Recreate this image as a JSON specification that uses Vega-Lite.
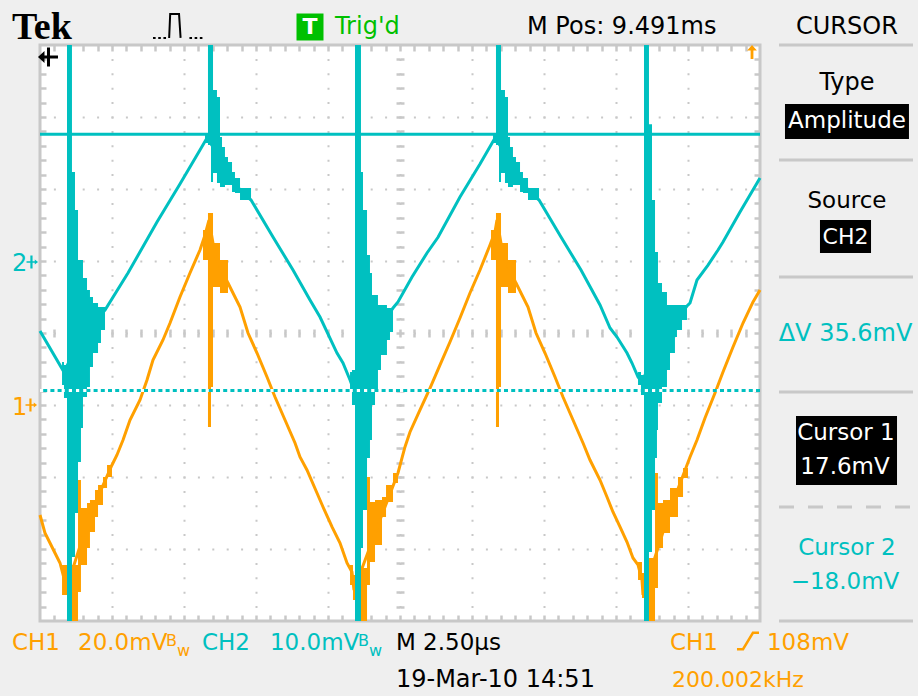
{
"$schema": "https://vega.github.io/schema/vega-lite/v6.json",
"width": 720, "height": 576,
"autosize": {"type": "none"},
"padding": {"left": 40, "top": 45, "right": 158, "bottom": 75},
"background": "#efefef",
"view": {"fill": "#ffffff", "stroke": "#c8c8c8", "strokeWidth": 3},
"data": {"values": [{"k": 0}]},
"datasets": {
"ch1": [
{"t":0,"v":-2.528},{"t":0.069,"v":-2.778},{"t":0.139,"v":-2.917},{"t":0.208,"v":-3.056},{"t":0.278,"v":-3.194},{"t":0.333,"v":-3.403},{"t":0.361,"v":-3.569},{"t":0.694,"v":-2.528},{"t":1.0,"v":-1.833},{"t":1.069,"v":-1.694},{"t":1.153,"v":-1.486},{"t":1.25,"v":-1.208},{"t":1.389,"v":-0.931},{"t":1.486,"v":-0.653},{"t":1.569,"v":-0.375},{"t":1.708,"v":-0.097},{"t":1.806,"v":0.139},{"t":1.944,"v":0.5},{"t":2.083,"v":0.833},{"t":2.222,"v":1.153},{"t":2.292,"v":1.361},{"t":2.347,"v":1.569},{"t":2.431,"v":1.083},{"t":2.611,"v":0.694},{"t":2.778,"v":0.361},{"t":2.889,"v":0},{"t":3.014,"v":-0.278},{"t":3.153,"v":-0.611},{"t":3.264,"v":-0.889},{"t":3.403,"v":-1.208},{"t":3.542,"v":-1.528},{"t":3.611,"v":-1.722},{"t":3.708,"v":-1.903},{"t":3.847,"v":-2.222},{"t":3.931,"v":-2.417},{"t":4.056,"v":-2.694},{"t":4.167,"v":-2.917},{"t":4.264,"v":-3.194},{"t":4.333,"v":-3.319},{"t":4.361,"v":-3.569},{"t":4.722,"v":-2.597},{"t":4.972,"v":-1.944},{"t":5.069,"v":-1.583},{"t":5.139,"v":-1.375},{"t":5.278,"v":-1.069},{"t":5.417,"v":-0.764},{"t":5.556,"v":-0.444},{"t":5.694,"v":-0.125},{"t":5.833,"v":0.208},{"t":5.972,"v":0.556},{"t":6.111,"v":0.875},{"t":6.25,"v":1.222},{"t":6.319,"v":1.403},{"t":6.347,"v":1.569},{"t":6.431,"v":1.083},{"t":6.611,"v":0.694},{"t":6.778,"v":0.361},{"t":6.889,"v":0},{"t":7.014,"v":-0.278},{"t":7.153,"v":-0.611},{"t":7.264,"v":-0.889},{"t":7.403,"v":-1.208},{"t":7.542,"v":-1.528},{"t":7.639,"v":-1.764},{"t":7.778,"v":-2.042},{"t":7.875,"v":-2.278},{"t":7.958,"v":-2.486},{"t":8.056,"v":-2.694},{"t":8.153,"v":-2.903},{"t":8.236,"v":-3.125},{"t":8.306,"v":-3.222},{"t":8.361,"v":-3.431},{"t":8.375,"v":-3.639},{"t":8.75,"v":-2.458},{"t":9.028,"v":-1.722},{"t":9.125,"v":-1.486},{"t":9.236,"v":-1.181},{"t":9.375,"v":-0.833},{"t":9.486,"v":-0.542},{"t":9.625,"v":-0.194},{"t":9.764,"v":0.139},{"t":9.903,"v":0.431},{"t":10,"v":0.597}
],
"ch1ring": [
{"burst":"a","t":0.306,"hi":-3.222,"lo":-3.639},{"burst":"a","t":0.375,"hi":-3.153,"lo":-4},{"burst":"a","t":0.444,"hi":-3.222,"lo":-4},{"burst":"a","t":0.528,"hi":-2.042,"lo":-3.597},{"burst":"a","t":0.569,"hi":-2.431,"lo":-3.222},{"burst":"a","t":0.653,"hi":-2.361,"lo":-2.986},{"burst":"a","t":0.694,"hi":-2.319,"lo":-2.764},{"burst":"a","t":0.764,"hi":-2.181,"lo":-2.556},{"burst":"a","t":0.806,"hi":-2.111,"lo":-2.389},{"burst":"a","t":0.875,"hi":-2.0,"lo":-2.153},{"burst":"a","t":0.931,"hi":-1.833,"lo":-2.0},{"burst":"a","t":1.0,"hi":-1.833,"lo":-1.9},
{"burst":"b","t":4.306,"hi":-3.222,"lo":-3.5},{"burst":"b","t":4.347,"hi":-3.361,"lo":-3.708},{"burst":"b","t":4.375,"hi":-3.222,"lo":-4},{"burst":"b","t":4.458,"hi":-3.264,"lo":-4},{"burst":"b","t":4.542,"hi":-2.0,"lo":-3.5},{"burst":"b","t":4.583,"hi":-2.347,"lo":-3.181},{"burst":"b","t":4.653,"hi":-2.319,"lo":-2.944},{"burst":"b","t":4.75,"hi":-2.278,"lo":-2.556},{"burst":"b","t":4.806,"hi":-2.111,"lo":-2.347},{"burst":"b","t":4.903,"hi":-1.944,"lo":-2.083},{"burst":"b","t":4.972,"hi":-1.944,"lo":-2.0},
{"burst":"c","t":8.306,"hi":-3.181,"lo":-3.431},{"burst":"c","t":8.361,"hi":-3.333,"lo":-3.681},{"burst":"c","t":8.389,"hi":-3.153,"lo":-4},{"burst":"c","t":8.458,"hi":-3.125,"lo":-4},{"burst":"c","t":8.542,"hi":-1.944,"lo":-3.542},{"burst":"c","t":8.583,"hi":-2.361,"lo":-2.986},{"burst":"c","t":8.653,"hi":-2.319,"lo":-2.778},{"burst":"c","t":8.75,"hi":-2.153,"lo":-2.556},{"burst":"c","t":8.861,"hi":-2.0,"lo":-2.278},{"burst":"c","t":8.931,"hi":-1.875,"lo":-2.014},{"burst":"c","t":9.0,"hi":-1.875,"lo":-1.95},
{"burst":"d","t":2.264,"hi":1.431,"lo":1.014},{"burst":"d","t":2.333,"hi":1.667,"lo":-1.306},{"burst":"d","t":2.375,"hi":1.667,"lo":-0.75},{"burst":"d","t":2.403,"hi":1.25,"lo":0.639},{"burst":"d","t":2.5,"hi":1.014,"lo":0.556},{"burst":"d","t":2.611,"hi":0.8,"lo":0.6},
{"burst":"e","t":6.264,"hi":1.431,"lo":1.014},{"burst":"e","t":6.333,"hi":1.667,"lo":-1.306},{"burst":"e","t":6.375,"hi":1.667,"lo":-0.75},{"burst":"e","t":6.403,"hi":1.25,"lo":0.639},{"burst":"e","t":6.5,"hi":1.014,"lo":0.556},{"burst":"e","t":6.611,"hi":0.8,"lo":0.6}
],
"ch2": [
{"t":0,"v":0.028},{"t":0.333,"v":-0.542},{"t":0.625,"v":0.042},{"t":0.903,"v":0.319},{"t":1.222,"v":0.833},{"t":1.625,"v":1.542},{"t":1.944,"v":2.069},{"t":2.222,"v":2.542},{"t":2.319,"v":2.708},{"t":2.431,"v":2.542},{"t":2.778,"v":1.986},{"t":2.931,"v":1.847},{"t":3.236,"v":1.333},{"t":3.514,"v":0.875},{"t":3.75,"v":0.458},{"t":3.889,"v":0.222},{"t":4.125,"v":-0.278},{"t":4.208,"v":-0.417},{"t":4.306,"v":-0.653},{"t":4.347,"v":-0.764},{"t":4.583,"v":-0.097},{"t":4.903,"v":0.347},{"t":4.972,"v":0.431},{"t":5.167,"v":0.778},{"t":5.375,"v":1.111},{"t":5.528,"v":1.33},{"t":5.833,"v":1.889},{"t":6.111,"v":2.347},{"t":6.319,"v":2.708},{"t":6.431,"v":2.542},{"t":6.778,"v":1.986},{"t":6.931,"v":1.847},{"t":7.236,"v":1.333},{"t":7.514,"v":0.875},{"t":7.778,"v":0.389},{"t":7.917,"v":0.069},{"t":8.014,"v":-0.056},{"t":8.153,"v":-0.278},{"t":8.222,"v":-0.417},{"t":8.306,"v":-0.611},{"t":8.361,"v":-0.681},{"t":8.611,"v":-0.097},{"t":8.986,"v":0.375},{"t":9.028,"v":0.417},{"t":9.125,"v":0.736},{"t":9.278,"v":0.944},{"t":9.417,"v":1.153},{"t":9.486,"v":1.264},{"t":9.722,"v":1.681},{"t":10,"v":2.153}
],
"ch2ring": [
{"burst":"a","t":0.306,"hi":-0.403,"lo":-0.722},{"burst":"a","t":0.333,"hi":-0.444,"lo":-0.903},{"burst":"a","t":0.375,"hi":4,"lo":-4},{"burst":"a","t":0.444,"hi":2.236,"lo":-3.111},{"burst":"a","t":0.486,"hi":1.708,"lo":-2.5},{"burst":"a","t":0.528,"hi":1.014,"lo":-1.792},{"burst":"a","t":0.569,"hi":1.014,"lo":-1.319},{"burst":"a","t":0.597,"hi":0.764,"lo":-0.889},{"burst":"a","t":0.653,"hi":0.597,"lo":-0.75},{"burst":"a","t":0.694,"hi":0.5,"lo":-0.472},{"burst":"a","t":0.736,"hi":0.417,"lo":-0.278},{"burst":"a","t":0.806,"hi":0.361,"lo":-0.139},{"burst":"a","t":0.847,"hi":0.361,"lo":0.042},{"burst":"a","t":0.903,"hi":0.34,"lo":0.25},
{"burst":"b","t":4.306,"hi":-0.542,"lo":-0.819},{"burst":"b","t":4.333,"hi":-0.514,"lo":-1.0},{"burst":"b","t":4.375,"hi":4,"lo":-4},{"burst":"b","t":4.458,"hi":2.236,"lo":-2.986},{"burst":"b","t":4.486,"hi":1.708,"lo":-2.458},{"burst":"b","t":4.542,"hi":1.083,"lo":-1.736},{"burst":"b","t":4.583,"hi":0.833,"lo":-1.486},{"burst":"b","t":4.611,"hi":0.528,"lo":-1.0},{"burst":"b","t":4.653,"hi":0.528,"lo":-0.792},{"burst":"b","t":4.694,"hi":0.389,"lo":-0.514},{"burst":"b","t":4.736,"hi":0.389,"lo":-0.306},{"burst":"b","t":4.819,"hi":0.347,"lo":-0.097},{"burst":"b","t":4.861,"hi":0.347,"lo":0.014},{"burst":"b","t":4.903,"hi":0.34,"lo":0.2},
{"burst":"c","t":8.306,"hi":-0.542,"lo":-0.722},{"burst":"c","t":8.347,"hi":-0.583,"lo":-0.861},{"burst":"c","t":8.389,"hi":4,"lo":-4},{"burst":"c","t":8.458,"hi":2.9,"lo":-3.042},{"burst":"c","t":8.5,"hi":1.847,"lo":-2.458},{"burst":"c","t":8.542,"hi":1.125,"lo":-1.736},{"burst":"c","t":8.569,"hi":1.125,"lo":-1.347},{"burst":"c","t":8.583,"hi":0.694,"lo":-0.972},{"burst":"c","t":8.639,"hi":0.569,"lo":-0.75},{"burst":"c","t":8.708,"hi":0.389,"lo":-0.514},{"burst":"c","t":8.75,"hi":0.389,"lo":-0.278},{"burst":"c","t":8.819,"hi":0.389,"lo":-0.056},{"burst":"c","t":8.847,"hi":0.389,"lo":0.042},{"burst":"c","t":8.917,"hi":0.389,"lo":0.181},{"burst":"c","t":8.986,"hi":0.38,"lo":0.3},
{"burst":"d","t":2.292,"hi":2.75,"lo":2.639},{"burst":"d","t":2.333,"hi":4,"lo":2.611},{"burst":"d","t":2.375,"hi":4,"lo":2.097},{"burst":"d","t":2.403,"hi":3.375,"lo":2.222},{"burst":"d","t":2.458,"hi":3.278,"lo":2.083},{"burst":"d","t":2.5,"hi":2.722,"lo":2.028},{"burst":"d","t":2.528,"hi":2.583,"lo":2.028},{"burst":"d","t":2.569,"hi":2.444,"lo":2.056},{"burst":"d","t":2.611,"hi":2.375,"lo":2.056},{"burst":"d","t":2.667,"hi":2.236,"lo":1.958},{"burst":"d","t":2.708,"hi":2.153,"lo":1.944},{"burst":"d","t":2.778,"hi":2.014,"lo":1.847},{"burst":"d","t":2.931,"hi":1.9,"lo":1.8},
{"burst":"e","t":6.292,"hi":2.75,"lo":2.639},{"burst":"e","t":6.333,"hi":4,"lo":2.611},{"burst":"e","t":6.375,"hi":4,"lo":2.097},{"burst":"e","t":6.403,"hi":3.375,"lo":2.222},{"burst":"e","t":6.458,"hi":3.278,"lo":2.083},{"burst":"e","t":6.5,"hi":2.722,"lo":2.028},{"burst":"e","t":6.528,"hi":2.583,"lo":2.028},{"burst":"e","t":6.569,"hi":2.444,"lo":2.056},{"burst":"e","t":6.611,"hi":2.375,"lo":2.056},{"burst":"e","t":6.667,"hi":2.236,"lo":1.958},{"burst":"e","t":6.708,"hi":2.153,"lo":1.944},{"burst":"e","t":6.778,"hi":2.014,"lo":1.847},{"burst":"e","t":6.931,"hi":1.9,"lo":1.8}
]
},
"layer": [
{"mark":{"type":"point","opacity":0},"encoding":{
"x":{"datum":5,"type":"quantitative","scale":{"domain":[0,10],"nice":false,"zero":false},"axis":{"orient":"bottom","values":[1,2,3,4,5,6,7,8,9],"grid":true,"gridColor":"#c8c8c8","gridWidth":2,"gridDash":[2,12.4],"gridDashOffset":1,"gridOpacity":1,"ticks":false,"labels":false,"domain":false,"title":null}},
"y":{"datum":0,"type":"quantitative","scale":{"domain":[-4,4],"nice":false,"zero":false},"axis":{"orient":"left","values":[-3,-2,-1,0,1,2,3],"grid":true,"gridColor":"#c8c8c8","gridWidth":2,"gridDash":[2,12.4],"gridDashOffset":1,"gridOpacity":1,"ticks":false,"labels":false,"domain":false,"title":null}}}},
{"mark":{"type":"point","opacity":0},"encoding":{
"x":{"datum":5,"type":"quantitative","scale":{"domain":[0,10],"nice":false,"zero":false},"axis":{"orient":"bottom","offset":-576,"values":[0.2,0.4,0.6,0.8,1,1.2,1.4,1.6,1.8,2,2.2,2.4,2.6,2.8,3,3.2,3.4,3.6,3.8,4,4.2,4.4,4.6,4.8,5,5.2,5.4,5.6,5.8,6,6.2,6.4,6.6,6.8,7,7.2,7.4,7.6,7.8,8,8.2,8.4,8.6,8.8,9,9.2,9.4,9.6,9.8],"grid":false,"ticks":true,"tickColor":"#c8c8c8","tickWidth":2.5,"tickSize":6,"labels":false,"domain":false,"title":null}},
"y":{"datum":0,"type":"quantitative","scale":{"domain":[-4,4],"nice":false,"zero":false},"axis":{"orient":"right","offset":-720,"values":[-3.8,-3.6,-3.4,-3.2,-3,-2.8,-2.6,-2.4,-2.2,-2,-1.8,-1.6,-1.4,-1.2,-1,-0.8,-0.6,-0.4,-0.2,0,0.2,0.4,0.6,0.8,1,1.2,1.4,1.6,1.8,2,2.2,2.4,2.6,2.8,3,3.2,3.4,3.6,3.8],"grid":false,"ticks":true,"tickColor":"#c8c8c8","tickWidth":2.5,"tickSize":6,"labels":false,"domain":false,"title":null}}}},
{"mark":{"type":"point","opacity":0},"encoding":{
"x":{"datum":5,"type":"quantitative","scale":{"domain":[0,10],"nice":false,"zero":false},"axis":{"orient":"top","offset":-576,"values":[0.2,0.4,0.6,0.8,1,1.2,1.4,1.6,1.8,2,2.2,2.4,2.6,2.8,3,3.2,3.4,3.6,3.8,4,4.2,4.4,4.6,4.8,5,5.2,5.4,5.6,5.8,6,6.2,6.4,6.6,6.8,7,7.2,7.4,7.6,7.8,8,8.2,8.4,8.6,8.8,9,9.2,9.4,9.6,9.8],"grid":false,"ticks":true,"tickColor":"#c8c8c8","tickWidth":2.5,"tickSize":6,"labels":false,"domain":false,"title":null}},
"y":{"datum":0,"type":"quantitative","scale":{"domain":[-4,4],"nice":false,"zero":false},"axis":{"orient":"left","offset":-720,"values":[-3.8,-3.6,-3.4,-3.2,-3,-2.8,-2.6,-2.4,-2.2,-2,-1.8,-1.6,-1.4,-1.2,-1,-0.8,-0.6,-0.4,-0.2,0,0.2,0.4,0.6,0.8,1,1.2,1.4,1.6,1.8,2,2.2,2.4,2.6,2.8,3,3.2,3.4,3.6,3.8],"grid":false,"ticks":true,"tickColor":"#c8c8c8","tickWidth":2.5,"tickSize":6,"labels":false,"domain":false,"title":null}}}},
{"mark":{"type":"point","opacity":0},"encoding":{
"x":{"datum":5,"type":"quantitative","scale":{"domain":[0,10],"nice":false,"zero":false},"axis":{"orient":"bottom","offset":-288,"values":[0.2,0.4,0.6,0.8,1,1.2,1.4,1.6,1.8,2,2.2,2.4,2.6,2.8,3,3.2,3.4,3.6,3.8,4,4.2,4.4,4.6,4.8,5,5.2,5.4,5.6,5.8,6,6.2,6.4,6.6,6.8,7,7.2,7.4,7.6,7.8,8,8.2,8.4,8.6,8.8,9,9.2,9.4,9.6,9.8],"grid":false,"ticks":true,"tickColor":"#c8c8c8","tickWidth":2.5,"tickSize":4,"labels":false,"domain":false,"title":null}},
"y":{"datum":0,"type":"quantitative","scale":{"domain":[-4,4],"nice":false,"zero":false},"axis":{"orient":"left","offset":-360,"values":[-3.8,-3.6,-3.4,-3.2,-3,-2.8,-2.6,-2.4,-2.2,-2,-1.8,-1.6,-1.4,-1.2,-1,-0.8,-0.6,-0.4,-0.2,0,0.2,0.4,0.6,0.8,1,1.2,1.4,1.6,1.8,2,2.2,2.4,2.6,2.8,3,3.2,3.4,3.6,3.8],"grid":false,"ticks":true,"tickColor":"#c8c8c8","tickWidth":2.5,"tickSize":4,"labels":false,"domain":false,"title":null}}}},
{"mark":{"type":"point","opacity":0},"encoding":{
"x":{"datum":5,"type":"quantitative","scale":{"domain":[0,10],"nice":false,"zero":false},"axis":{"orient":"top","offset":-288,"values":[0.2,0.4,0.6,0.8,1,1.2,1.4,1.6,1.8,2,2.2,2.4,2.6,2.8,3,3.2,3.4,3.6,3.8,4,4.2,4.4,4.6,4.8,5,5.2,5.4,5.6,5.8,6,6.2,6.4,6.6,6.8,7,7.2,7.4,7.6,7.8,8,8.2,8.4,8.6,8.8,9,9.2,9.4,9.6,9.8],"grid":false,"ticks":true,"tickColor":"#c8c8c8","tickWidth":2.5,"tickSize":4,"labels":false,"domain":false,"title":null}},
"y":{"datum":0,"type":"quantitative","scale":{"domain":[-4,4],"nice":false,"zero":false},"axis":{"orient":"right","offset":-360,"values":[-3.8,-3.6,-3.4,-3.2,-3,-2.8,-2.6,-2.4,-2.2,-2,-1.8,-1.6,-1.4,-1.2,-1,-0.8,-0.6,-0.4,-0.2,0,0.2,0.4,0.6,0.8,1,1.2,1.4,1.6,1.8,2,2.2,2.4,2.6,2.8,3,3.2,3.4,3.6,3.8],"grid":false,"ticks":true,"tickColor":"#c8c8c8","tickWidth":2.5,"tickSize":4,"labels":false,"domain":false,"title":null}}}},
{"data":{"name":"ch1ring"},"mark":{"type":"area","interpolate":"step-after","color":"#ffa000","opacity":1},"encoding":{"x":{"field":"t","type":"quantitative","scale":{"domain":[0,10],"nice":false,"zero":false},"axis":null},"y":{"field":"hi","type":"quantitative","scale":{"domain":[-4,4],"nice":false,"zero":false},"axis":null},"y2":{"field":"lo"},"detail":{"field":"burst"}}},
{"data":{"name":"ch1"},"mark":{"type":"line","color":"#ffa000","strokeWidth":3},"encoding":{"x":{"field":"t","type":"quantitative","scale":{"domain":[0,10],"nice":false,"zero":false},"axis":null},"y":{"field":"v","type":"quantitative","scale":{"domain":[-4,4],"nice":false,"zero":false},"axis":null}}},
{"data":{"name":"ch2ring"},"mark":{"type":"area","interpolate":"step-after","color":"#00c0c0","opacity":1},"encoding":{"x":{"field":"t","type":"quantitative","scale":{"domain":[0,10],"nice":false,"zero":false},"axis":null},"y":{"field":"hi","type":"quantitative","scale":{"domain":[-4,4],"nice":false,"zero":false},"axis":null},"y2":{"field":"lo"},"detail":{"field":"burst"}}},
{"data":{"name":"ch2"},"mark":{"type":"line","color":"#00c0c0","strokeWidth":3},"encoding":{"x":{"field":"t","type":"quantitative","scale":{"domain":[0,10],"nice":false,"zero":false},"axis":null},"y":{"field":"v","type":"quantitative","scale":{"domain":[-4,4],"nice":false,"zero":false},"axis":null}}},
{"mark":{"type":"rule","color":"#00c0c0","strokeWidth":3},"encoding":{"y":{"datum":2.76,"type":"quantitative","scale":{"domain":[-4,4],"nice":false,"zero":false},"axis":null}}},
{"mark":{"type":"rule","color":"#ffffff","strokeWidth":3},"encoding":{"y":{"datum":-0.8,"type":"quantitative","scale":{"domain":[-4,4],"nice":false,"zero":false},"axis":null}}},
{"mark":{"type":"rule","color":"#00c0c0","strokeWidth":3,"strokeDash":[4,3.2]},"encoding":{"y":{"datum":-0.8,"type":"quantitative","scale":{"domain":[-4,4],"nice":false,"zero":false},"axis":null}}},
{"mark":{"type":"rule","color":"#c8c8c8","strokeWidth":3},"encoding":{"x":{"datum":10.264,"type":"quantitative","scale":{"domain":[0,10],"nice":false,"zero":false},"axis":null},"x2":{"datum":12.125},"y":{"datum":4.0,"type":"quantitative","scale":{"domain":[-4,4],"nice":false,"zero":false},"axis":null}}},
{"mark":{"type":"rule","color":"#c8c8c8","strokeWidth":3},"encoding":{"x":{"datum":10.264,"type":"quantitative","scale":{"domain":[0,10],"nice":false,"zero":false},"axis":null},"x2":{"datum":12.125},"y":{"datum":2.403,"type":"quantitative","scale":{"domain":[-4,4],"nice":false,"zero":false},"axis":null}}},
{"mark":{"type":"rule","color":"#c8c8c8","strokeWidth":3},"encoding":{"x":{"datum":10.264,"type":"quantitative","scale":{"domain":[0,10],"nice":false,"zero":false},"axis":null},"x2":{"datum":12.125},"y":{"datum":0.778,"type":"quantitative","scale":{"domain":[-4,4],"nice":false,"zero":false},"axis":null}}},
{"mark":{"type":"rule","color":"#c8c8c8","strokeWidth":3},"encoding":{"x":{"datum":10.264,"type":"quantitative","scale":{"domain":[0,10],"nice":false,"zero":false},"axis":null},"x2":{"datum":12.125},"y":{"datum":-0.819,"type":"quantitative","scale":{"domain":[-4,4],"nice":false,"zero":false},"axis":null}}},
{"mark":{"type":"rule","color":"#c8c8c8","strokeWidth":3,"strokeDash":[15,14]},"encoding":{"x":{"datum":10.264,"type":"quantitative","scale":{"domain":[0,10],"nice":false,"zero":false},"axis":null},"x2":{"datum":12.125},"y":{"datum":-2.417,"type":"quantitative","scale":{"domain":[-4,4],"nice":false,"zero":false},"axis":null}}},
{"mark":{"type":"rule","color":"#c8c8c8","strokeWidth":3},"encoding":{"x":{"datum":10.264,"type":"quantitative","scale":{"domain":[0,10],"nice":false,"zero":false},"axis":null},"x2":{"datum":12.125},"y":{"datum":-4.0,"type":"quantitative","scale":{"domain":[-4,4],"nice":false,"zero":false},"axis":null}}},
{"mark":{"type":"rect","color":"#000000"},"encoding":{"x":{"datum":10.347,"type":"quantitative","scale":{"domain":[0,10],"nice":false,"zero":false},"axis":null},"x2":{"datum":12.069},"y":{"datum":3.181,"type":"quantitative","scale":{"domain":[-4,4],"nice":false,"zero":false},"axis":null},"y2":{"datum":2.694}}},
{"mark":{"type":"rect","color":"#000000"},"encoding":{"x":{"datum":10.833,"type":"quantitative","scale":{"domain":[0,10],"nice":false,"zero":false},"axis":null},"x2":{"datum":11.542},"y":{"datum":1.569,"type":"quantitative","scale":{"domain":[-4,4],"nice":false,"zero":false},"axis":null},"y2":{"datum":1.111}}},
{"mark":{"type":"rect","color":"#000000"},"encoding":{"x":{"datum":10.5,"type":"quantitative","scale":{"domain":[0,10],"nice":false,"zero":false},"axis":null},"x2":{"datum":11.903},"y":{"datum":-1.153,"type":"quantitative","scale":{"domain":[-4,4],"nice":false,"zero":false},"axis":null},"y2":{"datum":-2.111}}},
{"mark":{"type":"point","shape":"square","size":729,"filled":true,"color":"#00c000","opacity":1,"strokeWidth":0},"encoding":{"x":{"datum":3.75,"type":"quantitative","scale":{"domain":[0,10],"nice":false,"zero":false},"axis":null},"y":{"datum":4.25,"type":"quantitative","scale":{"domain":[-4,4],"nice":false,"zero":false},"axis":null}}},
{"mark":{"type":"point","shape":"M-1,0.42L-0.9,0.42M-0.8,0.42L-0.7,0.42M-0.6,0.42L-0.5,0.42M-0.38,0.42L-0.34,-0.5L0,-0.5L0.06,0.42M0.4,0.42L0.5,0.42M0.6,0.42L0.7,0.42M0.8,0.42L0.9,0.42","size":2704,"filled":false,"color":"#000000","opacity":1,"strokeWidth":2},"encoding":{"x":{"datum":1.931,"type":"quantitative","scale":{"domain":[0,10],"nice":false,"zero":false},"axis":null},"y":{"datum":4.25,"type":"quantitative","scale":{"domain":[-4,4],"nice":false,"zero":false},"axis":null}}},
{"mark":{"type":"point","shape":"M-1,0L-0.35,-0.6L-0.35,-0.15L1,-0.15L1,0.15L-0.35,0.15L-0.35,0.6ZM-0.1,-0.95L0.2,-0.95L0.2,0.95L-0.1,0.95Z","size":400,"filled":true,"color":"#000000","opacity":1,"strokeWidth":0},"encoding":{"x":{"datum":0.111,"type":"quantitative","scale":{"domain":[0,10],"nice":false,"zero":false},"axis":null},"y":{"datum":3.833,"type":"quantitative","scale":{"domain":[-4,4],"nice":false,"zero":false},"axis":null}}},
{"mark":{"type":"point","shape":"M0,-1L0.7,-0.2L0.2,-0.2L0.2,1L-0.2,1L-0.2,-0.2L-0.7,-0.2Z","size":196,"filled":true,"color":"#ffa000","opacity":1,"strokeWidth":0},"encoding":{"x":{"datum":9.889,"type":"quantitative","scale":{"domain":[0,10],"nice":false,"zero":false},"axis":null},"y":{"datum":3.903,"type":"quantitative","scale":{"domain":[-4,4],"nice":false,"zero":false},"axis":null}}},
{"mark":{"type":"point","shape":"M-1,-0.15L0.5,-0.15L0.5,-0.45L1.1,0L0.5,0.45L0.5,0.15L-1,0.15ZM-0.3,-1.2L0.1,-1.2L0.1,1.2L-0.3,1.2Z","size":121,"filled":true,"color":"#00c0c0","opacity":1,"strokeWidth":0},"encoding":{"x":{"datum":-0.111,"type":"quantitative","scale":{"domain":[0,10],"nice":false,"zero":false},"axis":null},"y":{"datum":0.986,"type":"quantitative","scale":{"domain":[-4,4],"nice":false,"zero":false},"axis":null}}},
{"mark":{"type":"point","shape":"M-1,-0.15L0.5,-0.15L0.5,-0.45L1.1,0L0.5,0.45L0.5,0.15L-1,0.15ZM-0.3,-1.2L0.1,-1.2L0.1,1.2L-0.3,1.2Z","size":121,"filled":true,"color":"#ffa000","opacity":1,"strokeWidth":0},"encoding":{"x":{"datum":-0.125,"type":"quantitative","scale":{"domain":[0,10],"nice":false,"zero":false},"axis":null},"y":{"datum":-1.0,"type":"quantitative","scale":{"domain":[-4,4],"nice":false,"zero":false},"axis":null}}},
{"mark":{"type":"point","shape":"M-1,0.75L-0.45,0.75L0.45,-0.75L1,-0.75","size":484,"filled":false,"color":"#ffa000","opacity":1,"strokeWidth":2.5},"encoding":{"x":{"datum":9.833,"type":"quantitative","scale":{"domain":[0,10],"nice":false,"zero":false},"axis":null},"y":{"datum":-4.278,"type":"quantitative","scale":{"domain":[-4,4],"nice":false,"zero":false},"axis":null}}},
{"mark":{"type":"text","text":"Tek","font":"Liberation Serif","fontWeight":"bold","fontSize":38,"align":"left","baseline":"alphabetic","color":"#000000"},"encoding":{"x":{"datum":-0.389,"type":"quantitative","scale":{"domain":[0,10],"nice":false,"zero":false},"axis":null},"y":{"datum":4.083,"type":"quantitative","scale":{"domain":[-4,4],"nice":false,"zero":false},"axis":null}}},
{"mark":{"type":"text","text":"T","font":"DejaVu Sans","fontWeight":"bold","fontSize":22,"align":"center","baseline":"middle","color":"#ffffff"},"encoding":{"x":{"datum":3.75,"type":"quantitative","scale":{"domain":[0,10],"nice":false,"zero":false},"axis":null},"y":{"datum":4.25,"type":"quantitative","scale":{"domain":[-4,4],"nice":false,"zero":false},"axis":null}}},
{"mark":{"type":"text","text":"Trig'd","font":"DejaVu Sans","fontSize":24,"align":"left","baseline":"alphabetic","color":"#00c000"},"encoding":{"x":{"datum":4.097,"type":"quantitative","scale":{"domain":[0,10],"nice":false,"zero":false},"axis":null},"y":{"datum":4.153,"type":"quantitative","scale":{"domain":[-4,4],"nice":false,"zero":false},"axis":null}}},
{"mark":{"type":"text","text":"M Pos: 9.491ms","font":"DejaVu Sans","fontSize":24,"align":"left","baseline":"alphabetic","color":"#000000"},"encoding":{"x":{"datum":6.764,"type":"quantitative","scale":{"domain":[0,10],"nice":false,"zero":false},"axis":null},"y":{"datum":4.153,"type":"quantitative","scale":{"domain":[-4,4],"nice":false,"zero":false},"axis":null}}},
{"mark":{"type":"text","text":"CURSOR","font":"DejaVu Sans","fontSize":24,"align":"left","baseline":"alphabetic","color":"#000000"},"encoding":{"x":{"datum":10.5,"type":"quantitative","scale":{"domain":[0,10],"nice":false,"zero":false},"axis":null},"y":{"datum":4.153,"type":"quantitative","scale":{"domain":[-4,4],"nice":false,"zero":false},"axis":null}}},
{"mark":{"type":"text","text":"Type","font":"DejaVu Sans","fontSize":24,"align":"center","baseline":"alphabetic","color":"#000000"},"encoding":{"x":{"datum":11.208,"type":"quantitative","scale":{"domain":[0,10],"nice":false,"zero":false},"axis":null},"y":{"datum":3.375,"type":"quantitative","scale":{"domain":[-4,4],"nice":false,"zero":false},"axis":null}}},
{"mark":{"type":"text","text":"Amplitude","font":"DejaVu Sans","fontSize":23,"align":"center","baseline":"alphabetic","color":"#ffffff"},"encoding":{"x":{"datum":11.208,"type":"quantitative","scale":{"domain":[0,10],"nice":false,"zero":false},"axis":null},"y":{"datum":2.847,"type":"quantitative","scale":{"domain":[-4,4],"nice":false,"zero":false},"axis":null}}},
{"mark":{"type":"text","text":"Source","font":"DejaVu Sans","fontSize":23,"align":"center","baseline":"alphabetic","color":"#000000"},"encoding":{"x":{"datum":11.208,"type":"quantitative","scale":{"domain":[0,10],"nice":false,"zero":false},"axis":null},"y":{"datum":1.736,"type":"quantitative","scale":{"domain":[-4,4],"nice":false,"zero":false},"axis":null}}},
{"mark":{"type":"text","text":"CH2","font":"DejaVu Sans","fontSize":22,"align":"center","baseline":"alphabetic","color":"#ffffff"},"encoding":{"x":{"datum":11.188,"type":"quantitative","scale":{"domain":[0,10],"nice":false,"zero":false},"axis":null},"y":{"datum":1.236,"type":"quantitative","scale":{"domain":[-4,4],"nice":false,"zero":false},"axis":null}}},
{"mark":{"type":"text","text":"ΔV 35.6mV","font":"DejaVu Sans","fontSize":24,"align":"center","baseline":"alphabetic","color":"#00c0c0"},"encoding":{"x":{"datum":11.188,"type":"quantitative","scale":{"domain":[0,10],"nice":false,"zero":false},"axis":null},"y":{"datum":-0.111,"type":"quantitative","scale":{"domain":[-4,4],"nice":false,"zero":false},"axis":null}}},
{"mark":{"type":"text","text":"Cursor 1","font":"DejaVu Sans","fontSize":23,"align":"center","baseline":"alphabetic","color":"#ffffff"},"encoding":{"x":{"datum":11.194,"type":"quantitative","scale":{"domain":[0,10],"nice":false,"zero":false},"axis":null},"y":{"datum":-1.486,"type":"quantitative","scale":{"domain":[-4,4],"nice":false,"zero":false},"axis":null}}},
{"mark":{"type":"text","text":"17.6mV","font":"DejaVu Sans","fontSize":23,"align":"center","baseline":"alphabetic","color":"#ffffff"},"encoding":{"x":{"datum":11.181,"type":"quantitative","scale":{"domain":[0,10],"nice":false,"zero":false},"axis":null},"y":{"datum":-1.958,"type":"quantitative","scale":{"domain":[-4,4],"nice":false,"zero":false},"axis":null}}},
{"mark":{"type":"text","text":"Cursor 2","font":"DejaVu Sans","fontSize":23,"align":"center","baseline":"alphabetic","color":"#00c0c0"},"encoding":{"x":{"datum":11.208,"type":"quantitative","scale":{"domain":[0,10],"nice":false,"zero":false},"axis":null},"y":{"datum":-3.083,"type":"quantitative","scale":{"domain":[-4,4],"nice":false,"zero":false},"axis":null}}},
{"mark":{"type":"text","text":"−18.0mV","font":"DejaVu Sans","fontSize":23,"align":"center","baseline":"alphabetic","color":"#00c0c0"},"encoding":{"x":{"datum":11.181,"type":"quantitative","scale":{"domain":[0,10],"nice":false,"zero":false},"axis":null},"y":{"datum":-3.556,"type":"quantitative","scale":{"domain":[-4,4],"nice":false,"zero":false},"axis":null}}},
{"mark":{"type":"text","text":"CH1","font":"DejaVu Sans","fontSize":23,"align":"left","baseline":"alphabetic","color":"#ffa000"},"encoding":{"x":{"datum":-0.389,"type":"quantitative","scale":{"domain":[0,10],"nice":false,"zero":false},"axis":null},"y":{"datum":-4.403,"type":"quantitative","scale":{"domain":[-4,4],"nice":false,"zero":false},"axis":null}}},
{"mark":{"type":"text","text":"20.0mV","font":"DejaVu Sans","fontSize":23,"align":"left","baseline":"alphabetic","color":"#ffa000"},"encoding":{"x":{"datum":0.528,"type":"quantitative","scale":{"domain":[0,10],"nice":false,"zero":false},"axis":null},"y":{"datum":-4.403,"type":"quantitative","scale":{"domain":[-4,4],"nice":false,"zero":false},"axis":null}}},
{"mark":{"type":"text","text":"B","font":"DejaVu Sans","fontSize":16,"align":"left","baseline":"alphabetic","color":"#ffa000"},"encoding":{"x":{"datum":1.75,"type":"quantitative","scale":{"domain":[0,10],"nice":false,"zero":false},"axis":null},"y":{"datum":-4.347,"type":"quantitative","scale":{"domain":[-4,4],"nice":false,"zero":false},"axis":null}}},
{"mark":{"type":"text","text":"w","font":"DejaVu Sans","fontSize":16,"align":"left","baseline":"alphabetic","color":"#ffa000"},"encoding":{"x":{"datum":1.903,"type":"quantitative","scale":{"domain":[0,10],"nice":false,"zero":false},"axis":null},"y":{"datum":-4.486,"type":"quantitative","scale":{"domain":[-4,4],"nice":false,"zero":false},"axis":null}}},
{"mark":{"type":"text","text":"CH2","font":"DejaVu Sans","fontSize":23,"align":"left","baseline":"alphabetic","color":"#00c0c0"},"encoding":{"x":{"datum":2.25,"type":"quantitative","scale":{"domain":[0,10],"nice":false,"zero":false},"axis":null},"y":{"datum":-4.403,"type":"quantitative","scale":{"domain":[-4,4],"nice":false,"zero":false},"axis":null}}},
{"mark":{"type":"text","text":"10.0mV","font":"DejaVu Sans","fontSize":23,"align":"left","baseline":"alphabetic","color":"#00c0c0"},"encoding":{"x":{"datum":3.194,"type":"quantitative","scale":{"domain":[0,10],"nice":false,"zero":false},"axis":null},"y":{"datum":-4.403,"type":"quantitative","scale":{"domain":[-4,4],"nice":false,"zero":false},"axis":null}}},
{"mark":{"type":"text","text":"B","font":"DejaVu Sans","fontSize":16,"align":"left","baseline":"alphabetic","color":"#00c0c0"},"encoding":{"x":{"datum":4.417,"type":"quantitative","scale":{"domain":[0,10],"nice":false,"zero":false},"axis":null},"y":{"datum":-4.347,"type":"quantitative","scale":{"domain":[-4,4],"nice":false,"zero":false},"axis":null}}},
{"mark":{"type":"text","text":"w","font":"DejaVu Sans","fontSize":16,"align":"left","baseline":"alphabetic","color":"#00c0c0"},"encoding":{"x":{"datum":4.569,"type":"quantitative","scale":{"domain":[0,10],"nice":false,"zero":false},"axis":null},"y":{"datum":-4.486,"type":"quantitative","scale":{"domain":[-4,4],"nice":false,"zero":false},"axis":null}}},
{"mark":{"type":"text","text":"M 2.50µs","font":"DejaVu Sans","fontSize":23,"align":"left","baseline":"alphabetic","color":"#000000"},"encoding":{"x":{"datum":4.944,"type":"quantitative","scale":{"domain":[0,10],"nice":false,"zero":false},"axis":null},"y":{"datum":-4.403,"type":"quantitative","scale":{"domain":[-4,4],"nice":false,"zero":false},"axis":null}}},
{"mark":{"type":"text","text":"CH1","font":"DejaVu Sans","fontSize":23,"align":"left","baseline":"alphabetic","color":"#ffa000"},"encoding":{"x":{"datum":8.75,"type":"quantitative","scale":{"domain":[0,10],"nice":false,"zero":false},"axis":null},"y":{"datum":-4.403,"type":"quantitative","scale":{"domain":[-4,4],"nice":false,"zero":false},"axis":null}}},
{"mark":{"type":"text","text":"108mV","font":"DejaVu Sans","fontSize":23,"align":"left","baseline":"alphabetic","color":"#ffa000"},"encoding":{"x":{"datum":10.097,"type":"quantitative","scale":{"domain":[0,10],"nice":false,"zero":false},"axis":null},"y":{"datum":-4.403,"type":"quantitative","scale":{"domain":[-4,4],"nice":false,"zero":false},"axis":null}}},
{"mark":{"type":"text","text":"19-Mar-10 14:51","font":"DejaVu Sans","fontSize":24,"align":"left","baseline":"alphabetic","color":"#000000"},"encoding":{"x":{"datum":4.944,"type":"quantitative","scale":{"domain":[0,10],"nice":false,"zero":false},"axis":null},"y":{"datum":-4.917,"type":"quantitative","scale":{"domain":[-4,4],"nice":false,"zero":false},"axis":null}}},
{"mark":{"type":"text","text":"200.002kHz","font":"DejaVu Sans","fontSize":22,"align":"left","baseline":"alphabetic","color":"#ffa000"},"encoding":{"x":{"datum":8.778,"type":"quantitative","scale":{"domain":[0,10],"nice":false,"zero":false},"axis":null},"y":{"datum":-4.917,"type":"quantitative","scale":{"domain":[-4,4],"nice":false,"zero":false},"axis":null}}},
{"mark":{"type":"text","text":"2","font":"DejaVu Sans","fontSize":24,"align":"left","baseline":"alphabetic","color":"#00c0c0"},"encoding":{"x":{"datum":-0.389,"type":"quantitative","scale":{"domain":[0,10],"nice":false,"zero":false},"axis":null},"y":{"datum":0.861,"type":"quantitative","scale":{"domain":[-4,4],"nice":false,"zero":false},"axis":null}}},
{"mark":{"type":"text","text":"1","font":"DejaVu Sans","fontSize":24,"align":"left","baseline":"alphabetic","color":"#ffa000"},"encoding":{"x":{"datum":-0.389,"type":"quantitative","scale":{"domain":[0,10],"nice":false,"zero":false},"axis":null},"y":{"datum":-1.139,"type":"quantitative","scale":{"domain":[-4,4],"nice":false,"zero":false},"axis":null}}}
],
"resolve": {"axis": {"x": "independent", "y": "independent"}}
}
